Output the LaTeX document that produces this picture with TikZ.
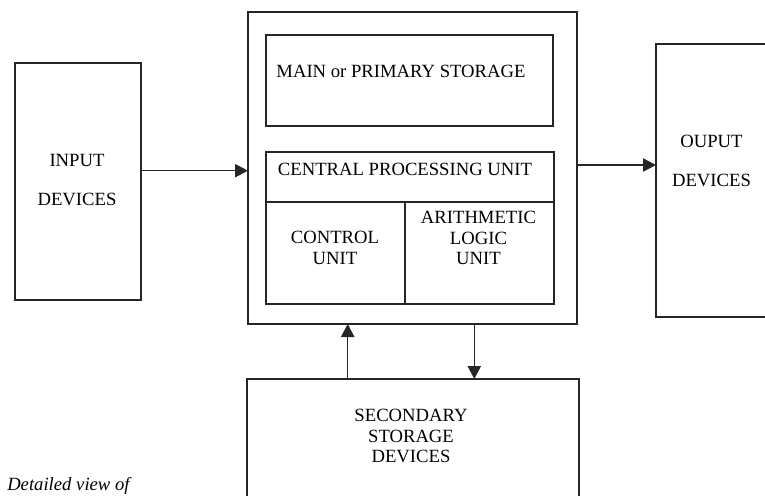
\documentclass[tikz,border=0pt]{standalone}
\usepackage{fontspec}
\setmainfont{Liberation Serif}
\usepackage{tikz}
\usetikzlibrary{calc}
\usetikzlibrary{positioning}
\usetikzlibrary{arrows.meta}

\newcommand{\px}{0.75pt}

\begin{document}
\begin{tikzpicture}[
    x = 0.75pt,
    y = -0.75pt,
    font = \fontsize{14}{15.5}\selectfont,
    unitf/.style = {
      rectangle,
      draw=black!85,
      line width=1.1pt,
      inner sep=0pt,
      outer sep=0pt
    },
    labelf/.style = {
      align=center,
      inner sep=0pt
    },
    flowf/.style = {
      draw=black!85,
      line width=0.9pt,
      -{Triangle[length=9.75pt,width=10pt]}
    }
  ]
    \useasboundingbox (0,0) rectangle (765,496);

    % boxes
    \node[unitf, minimum width=126*\px, minimum height=237*\px] (inputdev) at (78,181.5) {};
    \node[unitf, minimum width=329*\px, minimum height=312*\px] (computer) at (412.5,168) {};
    \node[unitf, minimum width=287*\px, minimum height=91*\px] (mainstore) at (409.5,80.5) {};
    \node[unitf, minimum width=288*\px, minimum height=50*\px] (cpu) at (410,177) {};
    \node[unitf, minimum width=139*\px, minimum height=102*\px] (ctrlunit) at (335.5,253) {};
    \node[unitf, minimum width=149*\px, minimum height=102*\px] (alu) at (479.5,253) {};
    \node[unitf, minimum width=114*\px, minimum height=273*\px] (outputdev) at (713,180.5) {};
    \node[unitf, minimum width=332*\px, minimum height=131*\px] (secstore) at (413,444.5) {};

    % texts
    \node[labelf] (inputtxt) at (77,180) {INPUT\\[14pt]DEVICES};
    \node[labelf] (maintxt) at (401,71) {MAIN or PRIMARY STORAGE};
    \node[labelf] (cputxt) at (405,169) {CENTRAL PROCESSING UNIT};
    \node[labelf] (ctrltxt) at (335,248) {CONTROL\\UNIT};
    \node[labelf] (alutxt) at (478.5,238) {ARITHMETIC\\LOGIC\\UNIT};
    \node[labelf] (outputtxt) at (711.5,161) {OUPUT\\[14pt]DEVICES};
    \node[labelf] (sectxt) at (411,436) {SECONDARY\\STORAGE\\DEVICES};
    \node[labelf, anchor=base west, font=\fontsize{14}{15.5}\selectfont\itshape]
      (caption) at (7,490) {Detailed view of};

    % connectors
    \coordinate (inrow) at (0,170.7);
    \coordinate (outrow) at (0,165);
    \coordinate (upcol) at (347.7,0);
    \coordinate (downcol) at (474.3,0);
    \draw[flowf] (inputdev.east |- inrow) -- (computer.west |- inrow);
    \draw[flowf] (computer.east |- outrow) -- (outputdev.west |- outrow);
    \draw[flowf] (secstore.north -| upcol) -- (computer.south -| upcol);
    \draw[flowf] (computer.south -| downcol) -- (secstore.north -| downcol);
  \end{tikzpicture}
\end{document}
